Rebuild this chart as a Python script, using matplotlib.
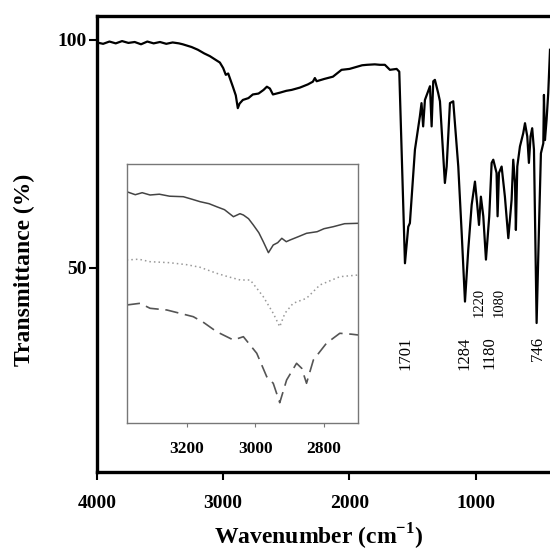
import matplotlib
matplotlib.use("Agg")
import matplotlib.pyplot as plt

plt.rcParams["font.family"] = ["Liberation Serif", "DejaVu Serif"]
plt.rcParams["mathtext.fontset"] = "custom"
plt.rcParams["mathtext.rm"] = "Liberation Serif"
plt.rcParams["mathtext.bf"] = "Liberation Serif:bold"

# ---------------------------------------------------------------------------
# Main FTIR spectrum
# ---------------------------------------------------------------------------
wn_main = [4000, 3950, 3900, 3850, 3800, 3750, 3700, 3650, 3600, 3550, 3500,
           3450, 3400, 3350, 3320, 3250, 3200, 3150, 3105, 3060, 3026, 3000,
           2979, 2960, 2923, 2900, 2884, 2870, 2844, 2800, 2765, 2720, 2680,
           2654, 2630, 2606, 2550, 2500, 2458, 2393, 2330, 2290, 2274, 2260,
           2200, 2131, 2063, 2000, 1950, 1900, 1862, 1800, 1759, 1720, 1680,
           1627, 1606, 1561, 1535, 1522, 1482, 1443, 1430, 1417, 1403, 1363,
           1350, 1337, 1324, 1298, 1284, 1245, 1231, 1205, 1179, 1139, 1112,
           1086, 1060, 1033, 1007, 989, 975, 960, 941, 920, 894, 875, 862,
           836, 828, 817, 796, 770, 743, 717, 704, 690, 683, 672, 651, 625,
           611, 593, 580, 567, 554, 540, 519, 498, 485, 466, 461, 453, 440,
           427, 413]
t_main = [99.4, 99.1, 99.6, 99.2, 99.7, 99.3, 99.5, 99.0, 99.6, 99.2, 99.5,
          99.1, 99.4, 99.2, 99.0, 98.4, 97.8, 97.0, 96.4, 95.6, 95.0, 93.8,
          92.3, 92.6, 89.7, 87.8, 85.0, 86.0, 86.8, 87.2, 88.0, 88.2, 89.0,
          89.7, 89.3, 88.0, 88.4, 88.8, 89.0, 89.5, 90.2, 90.8, 91.6, 90.9,
          91.4, 91.9, 93.4, 93.6, 94.0, 94.4, 94.5, 94.6, 94.5, 94.5, 93.4,
          93.6, 93.0, 51.0, 59.0, 59.8, 75.9, 83.2, 86.1, 81.0, 86.8, 89.8,
          81.0, 90.9, 91.2, 88.3, 86.5, 68.6, 72.2, 86.1, 86.5, 72.2, 57.6,
          42.6, 54.0, 63.8, 68.9, 63.8, 59.4, 65.6, 61.3, 51.8, 61.3, 73.0,
          73.7, 70.8, 61.3, 70.8, 72.2, 65.6, 56.5, 64.9, 73.7, 68.6, 58.3,
          72.2, 76.6, 79.5, 81.7, 78.8, 73.0, 78.8, 80.6, 75.9, 37.9, 61.3,
          75.1, 77.3, 87.9, 78.0, 82.5, 88.3, 97.8]

peak_labels = ["1701", "1284", "1180", "746"]
peak_pos = [1559, 1093, 895, 512]
small_labels = ["1220", "1080"]
small_pos = [972, 815]

# ---------------------------------------------------------------------------
# Inset: C-H stretching region, three samples (arbitrary units)
# ---------------------------------------------------------------------------
wn_solid = [3375, 3350, 3330, 3307, 3280, 3250, 3210, 3185, 3161, 3135,
            3113, 3090, 3064, 3045, 3035, 3020, 3006, 2990, 2977, 2962,
            2948, 2935, 2923, 2910, 2899, 2875, 2851, 2820, 2800, 2773,
            2740, 2700]
y_solid = [231, 228, 230, 227.7, 228.5, 226.5, 226, 223.5, 221, 219,
           216, 213, 206, 209, 207.7, 204, 197.7, 190, 181, 170,
           177.7, 180, 184.4, 181, 182.7, 186, 189.4, 191, 194, 196,
           199, 199.4]

wn_dot = [3375, 3340, 3307, 3250, 3200, 3161, 3113, 3080, 3044, 3015,
          2995, 2977, 2948, 2929, 2914, 2890, 2851, 2812, 2754, 2700]
y_dot = [162.7, 163.5, 161, 160, 158, 155.4, 149.4, 146, 142.7, 142.7,
         134, 126, 109.4, 96, 109.4, 119.4, 124.4, 137.7, 146, 147.7]

wn_dash = [3375, 3336, 3307, 3258, 3181, 3150, 3113, 3064, 3035, 2996,
           2967, 2948, 2929, 2909, 2880, 2865, 2851, 2831, 2793, 2754,
           2720, 2700]
y_dash = [117.7, 119.4, 114.4, 112.7, 106, 100, 91, 82.7, 86, 69.4,
          46, 39.4, 20, 42.7, 59.4, 54.4, 39.4, 62.7, 79.4, 89.4,
          88.5, 87.7]
inset_ticks = [3200, 3000, 2800]

# ---------------------------------------------------------------------------
fig = plt.figure(figsize=(5.5, 5.55), dpi=100)
ax = fig.add_axes([0.176, 0.150, 0.827, 0.822])
ax.plot(wn_main, t_main, color="black", lw=1.6)
ax.set_xlim(4000, 400)
ax.set_ylim(5.3, 105.3)
ax.set_xticks([4000, 3000, 2000, 1000])
ax.set_yticks([50, 100])
for side in ["left", "bottom", "top", "right"]:
    ax.spines[side].set_linewidth(2.4)
ax.tick_params(axis="x", direction="out", length=6, width=1.5, pad=11,
               labelsize=14)
ax.tick_params(axis="y", direction="out", length=6, width=1.5, pad=1,
               labelsize=14)
for lab in ax.get_xticklabels() + ax.get_yticklabels():
    lab.set_fontweight("bold")

for lab, x in zip(peak_labels, peak_pos):
    ax.text(x, 35.0, lab, rotation=90, ha="center", va="top", fontsize=12)
for lab, x in zip(small_labels, small_pos):
    ax.text(x, 45.6, lab, rotation=90, ha="center", va="top", fontsize=10.5)

fig.text(0.045, 1 - 270 / 555, "Transmittance (%)", rotation=90,
         ha="center", va="center", fontsize=17, fontweight="bold")
fig.text(0.58, 3 / 555, r"Wavenumber (cm$^{\mathbf{-1}}$)",
         ha="center", va="bottom", fontsize=17, fontweight="bold")

# inset
axi = fig.add_axes([0.2304, 0.2384, 0.4211, 0.4661])
axi.plot(wn_solid, y_solid, color="#444444", lw=1.1)
axi.plot(wn_dot, y_dot, color="#999999", lw=1.1, ls=(0, (1, 2)))
axi.plot(wn_dash, y_dash, color="#555555", lw=1.2, ls=(0, (8, 4)))
axi.set_xlim(3375, 2700)
axi.set_ylim(0, 258.7)
axi.set_xticks(inset_ticks)
axi.set_yticks([])
for side in ["left", "bottom", "top", "right"]:
    axi.spines[side].set_color("#777777")
    axi.spines[side].set_linewidth(1.0)
axi.tick_params(axis="x", direction="out", length=3, width=0.8,
                color="#777777", pad=10, labelsize=12.5)
for lab in axi.get_xticklabels():
    lab.set_fontweight("bold")

fig.savefig("out.png", dpi=100)
